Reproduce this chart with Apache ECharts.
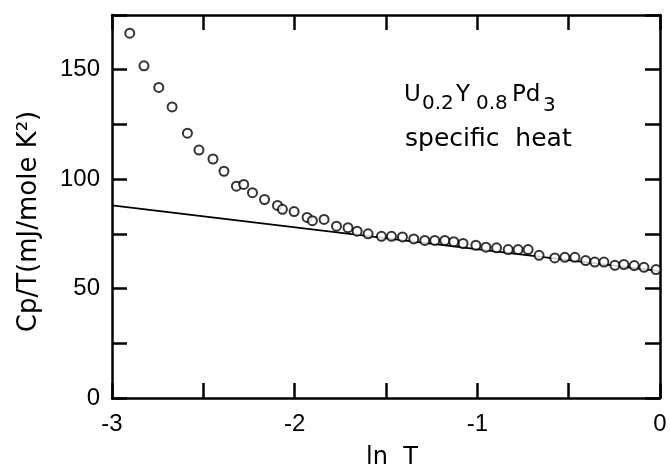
<!DOCTYPE html>
<html>
<head>
<meta charset="utf-8">
<script src="https://cdn.jsdelivr.net/npm/echarts@6/dist/echarts.min.js"></script>
<style>
  html, body { margin: 0; padding: 0; background: #fff; }
  #chart { width: 670px; height: 466px; }
</style>
</head>
<body>
<div id="chart"></div>
<script>
// Specific heat of U0.2Y0.8Pd3, plotted as Cp/T against ln T
const lnT = [
  -2.903, -2.825, -2.744, -2.671, -2.587, -2.524, -2.447, -2.387, -2.319, -2.279,
  -2.231, -2.165, -2.094, -2.067, -2.003, -1.932, -1.903, -1.839, -1.771, -1.708,
  -1.658, -1.598, -1.525, -1.470, -1.410, -1.348, -1.288, -1.233, -1.178, -1.129,
  -1.078, -1.008, -0.953, -0.895, -0.831, -0.777, -0.722, -0.662, -0.576, -0.521,
  -0.466, -0.407, -0.357, -0.307, -0.247, -0.198, -0.141, -0.088, -0.022
];
const cpOverT = [
  166.7, 151.8, 141.9, 133.0, 121.0, 113.3, 109.2, 103.6, 96.8, 97.6,
  93.8, 90.7, 88.0, 86.2, 85.2, 82.5, 81.0, 81.6, 78.5, 77.8,
  76.2, 75.0, 73.9, 73.9, 73.6, 72.7, 72.0, 72.0, 72.0, 71.4,
  70.6, 69.8, 68.9, 68.6, 67.8, 67.8, 67.8, 65.2, 64.0, 64.3,
  64.3, 62.8, 62.1, 62.1, 60.6, 61.0, 60.5, 59.7, 58.7
];
// straight-line fit in ln T
const fitLnT = [-3, 0];
const fitCp = [88, 58];

const xTickLabels = ['-3', '-2', '-1', '0'];
const yTickLabels = ['0', '50', '100', '150'];

const tickFont = '"Liberation Sans", Arial, sans-serif';
const textFont = '"DejaVu Sans", sans-serif';

const points = lnT.map((x, i) => [x, cpOverT[i]]);
const fitLine = fitLnT.map((x, i) => [x, fitCp[i]]);

const axisLine = { show: true, onZero: false, lineStyle: { color: '#000', width: 2.5 } };
const axisTick = { show: true, inside: true, length: 15, lineStyle: { color: '#000', width: 2.5 } };

function xLabel(v) {
  const s = String(v);
  return xTickLabels.indexOf(s) >= 0 ? s : '';
}
function yLabel(v) {
  const s = String(v);
  return yTickLabels.indexOf(s) >= 0 ? s : '';
}

const chart = echarts.init(document.getElementById('chart'), null, { renderer: 'canvas' });
chart.setOption({
  animation: false,
  backgroundColor: '#fff',
  grid: { left: 112, right: 10, top: 15, bottom: 68, containLabel: false, outerBoundsMode: 'none' },
  xAxis: [
    {
      type: 'value', min: -3, max: 0, interval: 0.5, position: 'bottom',
      axisLine, axisTick, splitLine: { show: false },
      axisLabel: { formatter: xLabel, color: '#000', fontFamily: tickFont, fontSize: 24, margin: 14 },
      name: 'ln  T', nameLocation: 'middle', nameGap: 48,
      nameTextStyle: { color: '#000', fontFamily: textFont, fontSize: 24, padding: [0, 0, 0, 12] }
    },
    {
      type: 'value', min: -3, max: 0, interval: 0.5, position: 'top',
      axisLine, axisTick, splitLine: { show: false }, axisLabel: { show: false }
    }
  ],
  yAxis: [
    {
      type: 'value', min: 0, max: 175, interval: 25, position: 'left',
      axisLine, axisTick, splitLine: { show: false },
      axisLabel: { formatter: yLabel, color: '#000', fontFamily: tickFont, fontSize: 24, margin: 12 },
      name: 'Cp/T(mJ/mole K²)', nameLocation: 'middle', nameGap: 70, nameRotate: 90,
      nameTextStyle: { color: '#000', fontFamily: textFont, fontSize: 26, padding: [0, 30, 0, 0] }
    },
    {
      type: 'value', min: 0, max: 175, interval: 25, position: 'right',
      axisLine, axisTick, splitLine: { show: false }, axisLabel: { show: false }
    }
  ],
  series: [
    {
      type: 'line', data: fitLine, showSymbol: false, symbol: 'none', z: 2,
      lineStyle: { color: '#000', width: 1.8 }
    },
    {
      type: 'scatter', data: points, symbol: 'emptyCircle', symbolSize: 9, z: 3,
      itemStyle: { color: '#000', borderColor: '#000', borderWidth: 2 }
    }
  ],
  graphic: [
    { type: 'text', x: 404, y: 95, style: { text: 'U', font: '23px ' + textFont, fill: '#000', verticalAlign: 'middle' } },
    { type: 'text', x: 422, y: 104, style: { text: '0.2', font: '20px ' + textFont, fill: '#000', verticalAlign: 'middle' } },
    { type: 'text', x: 456, y: 95, style: { text: 'Y', font: '23px ' + textFont, fill: '#000', verticalAlign: 'middle' } },
    { type: 'text', x: 476, y: 104, style: { text: '0.8', font: '20px ' + textFont, fill: '#000', verticalAlign: 'middle' } },
    { type: 'text', x: 512, y: 95, style: { text: 'Pd', font: '23px ' + textFont, fill: '#000', verticalAlign: 'middle' } },
    { type: 'text', x: 543, y: 106, style: { text: '3', font: '20px ' + textFont, fill: '#000', verticalAlign: 'middle' } },
    { type: 'text', x: 405, y: 139, style: { text: 'specific  heat', font: '25px ' + textFont, fill: '#000', verticalAlign: 'middle' } }
  ]
});
</script>
</body>
</html>
